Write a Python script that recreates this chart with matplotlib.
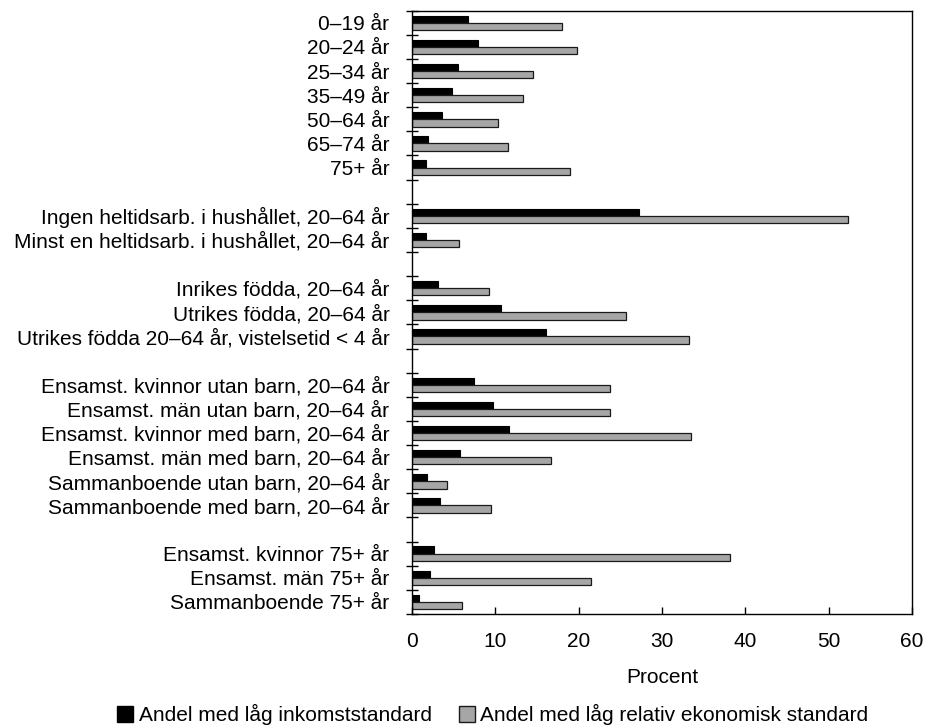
import numpy as np
import matplotlib.pyplot as plt
from matplotlib.patches import Patch

plt.rcParams['font.family'] = ['Liberation Sans', 'DejaVu Sans']

# categories, top to bottom ("" = empty gap row)
categories = [
    "0–19 år", "20–24 år", "25–34 år", "35–49 år", "50–64 år", "65–74 år", "75+ år",
    "",
    "Ingen heltidsarb. i hushållet, 20–64 år", "Minst en heltidsarb. i hushållet, 20–64 år",
    "",
    "Inrikes födda, 20–64 år", "Utrikes födda, 20–64 år",
    "Utrikes födda 20–64 år, vistelsetid < 4 år",
    "",
    "Ensamst. kvinnor utan barn, 20–64 år", "Ensamst. män utan barn, 20–64 år",
    "Ensamst. kvinnor med barn, 20–64 år", "Ensamst. män med barn, 20–64 år",
    "Sammanboende utan barn, 20–64 år", "Sammanboende med barn, 20–64 år",
    "",
    "Ensamst. kvinnor 75+ år", "Ensamst. män 75+ år", "Sammanboende 75+ år",
]

low_income = [6.8, 7.9, 5.6, 4.8, 3.65, 1.9, 1.75,
              np.nan,
              27.3, 1.75,
              np.nan,
              3.1, 10.7, 16.1,
              np.nan,
              7.45, 9.75, 11.7, 5.8, 1.8, 3.35,
              np.nan,
              2.65, 2.15, 0.9]

low_relative = [18.05, 19.85, 14.6, 13.35, 10.4, 11.5, 19.0,
                np.nan,
                52.3, 5.7,
                np.nan,
                9.25, 25.75, 33.25,
                np.nan,
                23.8, 23.8, 33.45, 16.7, 4.2, 9.55,
                np.nan,
                38.15, 21.5, 6.05]

series_names = ["Andel med låg inkomststandard",
                "Andel med låg relativ ekonomisk standard"]

fs = 15

fig = plt.figure(figsize=(9.26, 7.28), dpi=100)
ax = fig.add_axes([0.4446, 0.1566, 0.5404, 0.8287])

y = np.arange(len(categories))
h = 0.3
ax.barh(y - h / 2, low_income, height=h, color="black",
        edgecolor="black", linewidth=0.8)
ax.barh(y + h / 2, low_relative, height=h, color="#a6a6a6",
        edgecolor="#1a1a1a", linewidth=0.9)

ax.set_ylim(len(categories) - 0.5, -0.5)
ax.set_xlim(0, 60)
ax.set_yticks(y)
ax.set_yticklabels(categories, fontsize=fs)
ax.tick_params(axis="y", which="major", length=0, pad=16)
ax.set_yticks(np.arange(len(categories) + 1) - 0.5, minor=True)
ax.tick_params(axis="y", which="minor", direction="inout", length=9, width=1)

ax.set_xticks(range(0, 61, 10))
ax.tick_params(axis="x", direction="in", length=5, width=1, labelsize=fs, pad=13)
ax.set_xlabel("Procent", fontsize=fs, labelpad=12)

for s in ax.spines.values():
    s.set_linewidth(1.0)

handles = [Patch(facecolor="black", edgecolor="black"),
           Patch(facecolor="#a6a6a6", edgecolor="#1a1a1a")]
fig.legend(handles, series_names, loc="lower center", ncol=2, frameon=False,
           fontsize=fs, bbox_to_anchor=(0.532, -0.022), handlelength=0.8,
           handleheight=0.8, handletextpad=0.25, columnspacing=1.3)

fig.savefig("out.png", dpi=100)
